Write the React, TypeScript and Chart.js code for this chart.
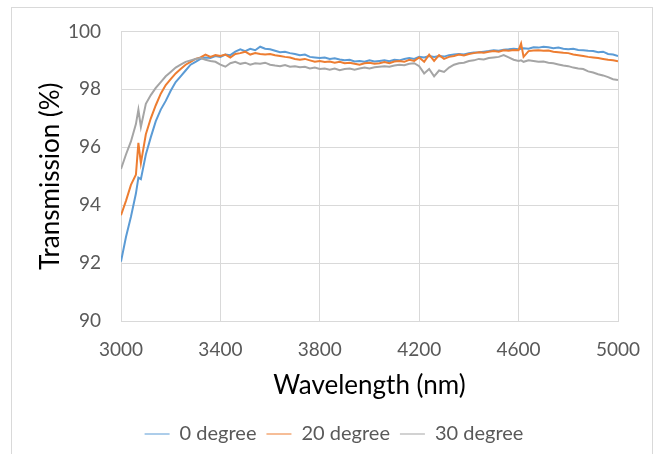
import React, { useEffect, useRef } from "react";
import { Chart, registerables } from "chart.js";

Chart.register(...registerables);

const wavelengths = [
  3000, 3020, 3040, 3060, 3070, 3080, 3100, 3120, 3140, 3160,
  3180, 3200, 3220, 3240, 3260, 3280, 3300, 3320, 3340, 3360,
  3380, 3400, 3420, 3440, 3460, 3480, 3500, 3520, 3540, 3560,
  3580, 3600, 3620, 3640, 3660, 3680, 3700, 3720, 3740, 3760,
  3780, 3800, 3820, 3840, 3860, 3880, 3900, 3920, 3940, 3960,
  3980, 4000, 4020, 4040, 4060, 4080, 4100, 4120, 4140, 4160,
  4180, 4200, 4220, 4240, 4260, 4280, 4300, 4320, 4340, 4360,
  4380, 4400, 4420, 4440, 4460, 4480, 4500, 4520, 4540, 4560,
  4580, 4600, 4610, 4620, 4640, 4660, 4680, 4700, 4720, 4740,
  4760, 4780, 4800, 4820, 4840, 4860, 4880, 4900, 4920, 4940,
  4960, 4980, 5000,
];

const deg0 = [
  92.05, 92.9, 93.6, 94.4, 94.95, 94.9, 95.75, 96.35, 96.9, 97.3,
  97.6, 97.95, 98.25, 98.45, 98.65, 98.85, 98.95, 99.05, 99.1, 99.08,
  99.15, 99.12, 99.2, 99.18, 99.3, 99.38, 99.32, 99.4, 99.35, 99.47,
  99.4, 99.38, 99.33, 99.28, 99.3, 99.25, 99.22, 99.18, 99.2, 99.12,
  99.1, 99.08, 99.1, 99.05, 99.07, 99.03, 99.0, 99.02, 98.96, 98.98,
  98.95, 99.0, 98.96, 98.98, 99.0, 98.97, 99.02, 99.0, 99.05, 99.08,
  99.05, 99.12, 99.1, 99.15, 99.12, 99.15, 99.13, 99.18, 99.2, 99.22,
  99.2, 99.25, 99.27, 99.28, 99.3, 99.32, 99.35, 99.33, 99.37, 99.38,
  99.4, 99.38, 99.4, 99.42, 99.4, 99.45, 99.44, 99.47, 99.45, 99.42,
  99.44, 99.4, 99.38, 99.4, 99.36, 99.35, 99.33, 99.32, 99.28, 99.3,
  99.22, 99.2, 99.15,
];

const deg20 = [
  93.65, 94.15, 94.7, 95.05, 96.15, 95.45, 96.45, 97.0, 97.45, 97.85,
  98.15, 98.35, 98.55, 98.7, 98.85, 98.95, 99.05, 99.1, 99.2, 99.12,
  99.18, 99.15, 99.2, 99.1, 99.22, 99.25, 99.3, 99.2, 99.25, 99.22,
  99.2, 99.22, 99.18, 99.15, 99.12, 99.1, 99.05, 99.02, 99.05, 99.0,
  98.95, 98.98, 98.94, 98.96, 98.92, 98.95, 98.9, 98.92, 98.88, 98.85,
  98.9, 98.92, 98.88, 98.9, 98.94, 98.9, 98.96, 98.98, 98.95, 99.02,
  98.98, 99.1, 98.95, 99.2, 98.98, 99.18, 99.05, 99.12, 99.15, 99.2,
  99.17, 99.22, 99.25, 99.28, 99.26, 99.3, 99.32, 99.3, 99.35, 99.33,
  99.36, 99.35, 99.58, 99.12, 99.32, 99.34, 99.35, 99.33, 99.34, 99.3,
  99.28, 99.26, 99.25, 99.2, 99.18, 99.15, 99.12, 99.1, 99.08, 99.05,
  99.02, 99.0, 98.97,
];

const deg30 = [
  95.25, 95.75, 96.2, 96.8, 97.3, 96.7, 97.5, 97.8, 98.05, 98.25,
  98.45, 98.6, 98.75, 98.85, 98.95, 99.0, 99.05, 99.08, 99.02, 98.98,
  98.95, 98.85, 98.78, 98.9, 98.95, 98.88, 98.92, 98.85, 98.9, 98.88,
  98.92, 98.85, 98.82, 98.8, 98.84, 98.78, 98.8, 98.76, 98.78, 98.72,
  98.75, 98.7, 98.72, 98.68, 98.72, 98.66, 98.7, 98.72, 98.68, 98.72,
  98.75, 98.72, 98.76, 98.78, 98.8, 98.78, 98.82, 98.85, 98.83, 98.88,
  98.9, 98.8, 98.55, 98.7, 98.45, 98.65, 98.6, 98.75, 98.85, 98.9,
  98.92, 98.98, 99.0, 99.05, 99.03, 99.08, 99.1, 99.12, 99.18, 99.1,
  99.02, 98.98, 99.0, 98.95, 99.0, 98.98, 98.95, 98.96, 98.92, 98.9,
  98.86, 98.82, 98.8, 98.75, 98.72, 98.7, 98.62, 98.58, 98.52, 98.48,
  98.42, 98.35, 98.32,
];

const seriesLabels = ["0 degree", "20 degree", "30 degree"];
const xTicks = [3000, 3400, 3800, 4200, 4600, 5000];
const yTicks = [90, 92, 94, 96, 98, 100];

const FONT = "Lato, 'Open Sans', sans-serif";

export default function App() {
  const ref = useRef<HTMLCanvasElement>(null);

  useEffect(() => {
    document.body.style.margin = "0";
    const toPts = (ys: number[]) => wavelengths.map((x, i) => ({ x, y: ys[i] }));
    const chart = new Chart(ref.current as HTMLCanvasElement, {
      type: "line",
      data: {
        datasets: [
          { label: seriesLabels[0], data: toPts(deg0), borderColor: "#5B9BD5", backgroundColor: "#5B9BD5", order: 3 },
          { label: seriesLabels[1], data: toPts(deg20), borderColor: "#ED7D31", backgroundColor: "#ED7D31", order: 2 },
          { label: seriesLabels[2], data: toPts(deg30), borderColor: "#A5A5A5", backgroundColor: "#A5A5A5", order: 1 },
        ],
      },
      options: {
        animation: false,
        responsive: false,
        devicePixelRatio: 1,
        layout: { padding: { left: 10, right: 0, top: 28, bottom: 0 } },
        elements: {
          point: { radius: 0, hoverRadius: 0 },
          line: { borderWidth: 2, tension: 0 },
        },
        plugins: {
          tooltip: { enabled: false },
          legend: {
            position: "bottom",
            labels: {
              usePointStyle: true,
              pointStyle: "line",
              pointStyleWidth: 25,
              color: "#595959",
              font: { family: FONT, size: 20 },
              padding: 10,
              sort: (a: any, b: any) => a.datasetIndex - b.datasetIndex,
            },
          },
        },
        scales: {
          x: {
            type: "linear",
            min: 3000,
            max: 5000,
            afterBuildTicks: (s: any) => {
              s.ticks = xTicks.map((v) => ({ value: v }));
            },
            afterFit: (s: any) => {
              s.height = 93;
            },
            grid: { color: "#d9d9d9", lineWidth: 1, drawTicks: false },
            border: { color: "#d9d9d9" },
            ticks: {
              padding: 17,
              color: "#595959",
              font: { family: FONT, size: 19 },
              maxRotation: 0,
              callback: (v: any) => String(v),
            },
            title: {
              display: true,
              text: "Wavelength (nm)",
              color: "#000000",
              font: { family: FONT, size: 26 },
              padding: { top: 0, bottom: 13 },
            },
          },
          y: {
            type: "linear",
            min: 90,
            max: 100,
            afterBuildTicks: (s: any) => {
              s.ticks = yTicks.map((v) => ({ value: v }));
            },
            afterFit: (s: any) => {
              s.width = 111;
            },
            grid: { color: "#d9d9d9", lineWidth: 1, drawTicks: false },
            border: { color: "#d9d9d9" },
            ticks: {
              padding: 20,
              color: "#595959",
              font: { family: FONT, size: 19 },
              callback: (v: any) => String(v),
            },
            title: {
              display: true,
              text: "Transmission (%)",
              color: "#000000",
              font: { family: FONT, size: 26 },
              padding: { top: 25, bottom: 0 },
            },
          },
          yRight: {
            type: "linear",
            position: "right",
            min: 90,
            max: 100,
            afterFit: (s: any) => {
              s.width = 40;
            },
            grid: { display: false, drawTicks: false },
            border: { display: false },
            ticks: { display: false },
          },
        },
      },
    });
    return () => chart.destroy();
  }, []);

  return (
    <div style={{ position: "relative", width: 658, height: 454, overflow: "hidden", background: "#ffffff" }}>
      <div
        style={{
          position: "absolute",
          left: 11,
          top: 7,
          width: 642,
          height: 470,
          border: "1px solid #d9d9d9",
          boxSizing: "border-box",
        }}
      />
      <canvas ref={ref} width={658} height={454} style={{ position: "absolute", left: 0, top: 0 }} />
    </div>
  );
}
